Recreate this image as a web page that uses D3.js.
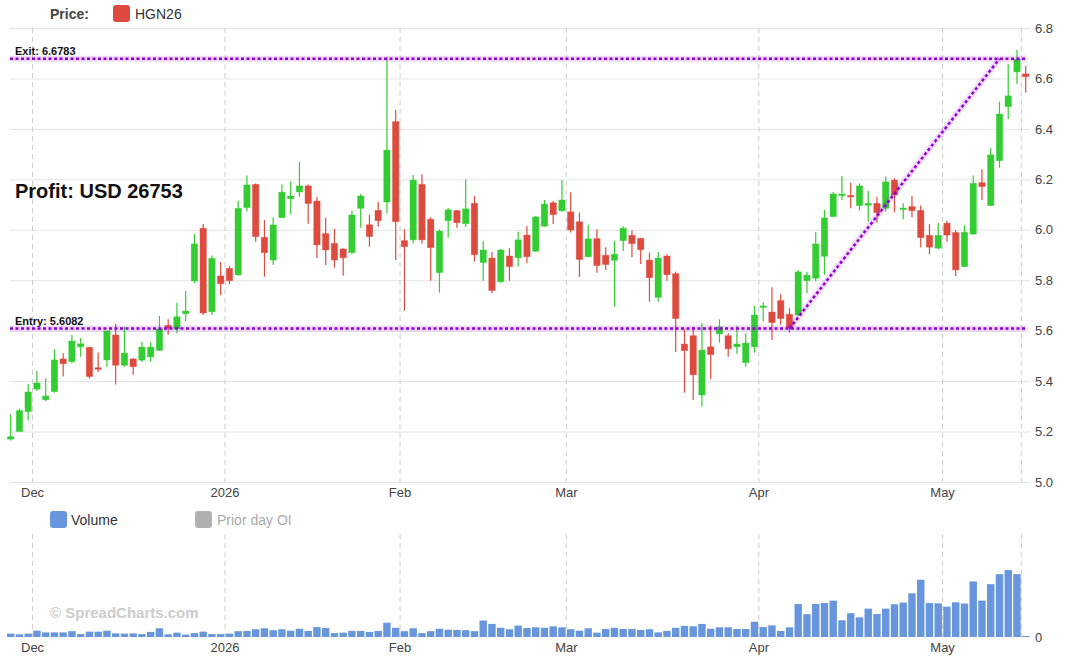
<!DOCTYPE html>
<html>
<head>
<meta charset="utf-8">
<script src="https://cdn.jsdelivr.net/npm/d3@7"></script>
<style>
  body { margin: 0; background: #fff; }
  svg { display: block; font-family: "Liberation Sans", Arial, sans-serif; }
</style>
</head>
<body>
<svg width="1080" height="658"></svg>
<script>
// trading calendar (weekdays minus exchange holidays)
const firstDay = "2025-11-25";
const lastDay = "2026-05-14";
const holidays = ["2025-11-27", "2025-12-25", "2026-01-01", "2026-01-19", "2026-02-16", "2026-04-03"];

// HGN26 daily OHLC
const open = [5.170, 5.200, 5.279, 5.368, 5.326, 5.358, 5.488, 5.477, 5.536, 5.534,
  5.453, 5.484, 5.583, 5.463, 5.488, 5.483, 5.496, 5.522, 5.621, 5.607,
  5.667, 5.797, 6.006, 5.675, 5.817, 5.847, 5.821, 6.088, 6.180, 5.970,
  5.880, 6.048, 6.123, 6.150, 6.174, 6.114, 5.985, 5.946, 5.924, 5.909,
  6.085, 6.020, 6.077, 6.110, 6.429, 5.957, 5.960, 6.180, 6.042, 5.830,
  6.036, 6.076, 6.024, 6.105, 5.870, 5.888, 5.794, 5.896, 5.889, 5.979,
  5.915, 6.014, 6.107, 6.075, 6.071, 6.032, 5.893, 5.965, 5.899, 5.879,
  5.957, 5.978, 5.966, 5.880, 5.732, 5.896, 5.826, 5.547, 5.580, 5.345,
  5.536, 5.587, 5.580, 5.536, 5.473, 5.536, 5.694, 5.674, 5.719, 5.665,
  5.662, 5.798, 5.808, 5.895, 6.052, 6.135, 6.136, 6.096, 6.097, 6.105,
  6.085, 6.197, 6.082, 6.092, 6.077, 5.978, 5.927, 6.026, 5.989, 5.854,
  5.983, 6.187, 6.096, 6.274, 6.488, 6.626, 6.618];
const high = [5.270, 5.290, 5.389, 5.441, 5.411, 5.526, 5.510, 5.583, 5.571, 5.536,
  5.513, 5.600, 5.627, 5.616, 5.490, 5.556, 5.554, 5.658, 5.645, 5.711,
  5.757, 5.983, 6.023, 5.898, 5.872, 5.855, 6.115, 6.215, 6.183, 6.039,
  6.049, 6.180, 6.191, 6.269, 6.180, 6.130, 6.048, 6.003, 5.927, 6.075,
  6.142, 6.059, 6.110, 6.686, 6.475, 6.002, 6.217, 6.220, 6.050, 6.002,
  6.086, 6.078, 6.200, 6.134, 5.956, 5.912, 5.924, 5.927, 5.992, 6.015,
  6.055, 6.118, 6.114, 6.197, 6.149, 6.068, 6.020, 6.002, 5.931, 5.956,
  6.014, 5.998, 5.968, 5.909, 5.912, 5.903, 5.834, 5.605, 5.616, 5.629,
  5.619, 5.645, 5.590, 5.619, 5.590, 5.698, 5.713, 5.772, 5.744, 5.689,
  5.841, 5.833, 5.991, 6.079, 6.150, 6.213, 6.187, 6.184, 6.154, 6.131,
  6.211, 6.205, 6.105, 6.134, 6.096, 6.022, 6.028, 6.036, 5.999, 6.018,
  6.215, 6.240, 6.323, 6.508, 6.656, 6.713, 6.650];
const low = [5.165, 5.200, 5.246, 5.362, 5.321, 5.354, 5.418, 5.471, 5.497, 5.410,
  5.436, 5.457, 5.387, 5.457, 5.425, 5.477, 5.477, 5.520, 5.584, 5.590,
  5.636, 5.788, 5.662, 5.662, 5.741, 5.784, 5.818, 6.072, 5.953, 5.814,
  5.860, 6.046, 6.063, 6.131, 6.024, 5.887, 5.860, 5.850, 5.818, 5.905,
  6.008, 5.933, 6.012, 6.065, 5.880, 5.679, 5.946, 5.946, 5.798, 5.751,
  5.969, 6.008, 6.011, 5.874, 5.798, 5.748, 5.790, 5.798, 5.854, 5.867,
  5.913, 6.012, 6.023, 6.071, 5.989, 5.813, 5.891, 5.830, 5.841, 5.695,
  5.916, 5.891, 5.864, 5.715, 5.715, 5.798, 5.515, 5.354, 5.325, 5.299,
  5.408, 5.552, 5.497, 5.508, 5.457, 5.513, 5.636, 5.563, 5.623, 5.592,
  5.658, 5.748, 5.796, 5.821, 6.050, 6.118, 6.085, 6.076, 6.032, 6.028,
  6.072, 6.069, 6.042, 6.050, 5.931, 5.903, 5.923, 5.953, 5.817, 5.852,
  5.980, 6.118, 6.094, 6.246, 6.439, 6.578, 6.544];
const close = [5.180, 5.283, 5.357, 5.393, 5.341, 5.484, 5.469, 5.559, 5.548, 5.418,
  5.449, 5.599, 5.463, 5.511, 5.457, 5.535, 5.535, 5.607, 5.609, 5.655,
  5.678, 5.944, 5.670, 5.887, 5.786, 5.798, 6.085, 6.178, 5.973, 5.909,
  6.019, 6.149, 6.134, 6.174, 6.104, 5.940, 5.920, 5.880, 5.889, 6.059,
  6.134, 5.973, 6.036, 6.316, 6.032, 5.933, 6.197, 5.960, 5.929, 5.995,
  6.079, 6.028, 6.083, 5.901, 5.920, 5.759, 5.920, 5.854, 5.960, 5.893,
  6.051, 6.102, 6.060, 6.118, 5.999, 5.882, 5.964, 5.858, 5.862, 5.903,
  6.006, 5.945, 5.921, 5.810, 5.888, 5.822, 5.648, 5.521, 5.425, 5.523,
  5.505, 5.615, 5.528, 5.547, 5.551, 5.662, 5.698, 5.632, 5.648, 5.612,
  5.833, 5.820, 5.944, 6.047, 6.142, 6.142, 6.132, 6.174, 6.105, 6.068,
  6.190, 6.138, 6.086, 6.076, 5.969, 5.931, 5.978, 5.979, 5.841, 5.990,
  6.184, 6.171, 6.297, 6.459, 6.531, 6.676, 6.607];
const volume = [1400, 1100, 1400, 2600, 1900, 1900, 1900, 2400, 1200, 2200,
  2200, 2600, 1500, 1400, 1500, 1200, 2100, 3600, 1100, 1800,
  1000, 1600, 2200, 1200, 1200, 1400, 2400, 2500, 3200, 3600,
  2800, 3200, 2600, 3400, 2500, 4100, 3700, 1600, 1800, 2500,
  2500, 2100, 2500, 5900, 3800, 2400, 3600, 1600, 2400, 3400,
  3000, 2900, 2800, 2400, 6800, 5400, 3800, 3200, 4700, 3700,
  4000, 3800, 4400, 4000, 3200, 2600, 3600, 1800, 3300, 3800,
  3300, 3300, 2900, 3200, 1900, 2500, 3800, 4600, 4400, 5400,
  3400, 4000, 4000, 3300, 3300, 6300, 4100, 4800, 2500, 4000,
  13600, 9400, 13600, 14000, 15000, 6900, 9800, 8100, 11700, 9500,
  11700, 13500, 14200, 18000, 23600, 14000, 13900, 12500, 14300, 13800,
  22900, 15000, 21800, 25900, 27600, 25900, 0];

// axes
const priceTicks = [5.0, 5.2, 5.4, 5.6, 5.8, 6.0, 6.2, 6.4, 6.6, 6.8];
const monthLabels = ["Dec", "2026", "Feb", "Mar", "Apr", "May"];
const monthStarts = ["2025-12-01", "2026-01-02", "2026-02-02", "2026-03-02", "2026-04-01", "2026-05-01"];

// trade
const entryDate = "2026-04-07", entryPrice = 5.6082;
const exitDate = "2026-05-11", exitPrice = 6.6783;
const profit = 26753;

const green = "#33cc33", red = "#dd4b3e", purple = "#9400d3";

const parse = d3.utcParse("%Y-%m-%d");
const fmt = d3.utcFormat("%Y-%m-%d");
const dates = d3.utcDays(parse(firstDay), d3.utcDay.offset(parse(lastDay), 1))
  .filter(d => d.getUTCDay() % 6 !== 0 && !holidays.includes(fmt(d)))
  .map(fmt);

const data = dates.map((d, i) => ({
  date: d, open: open[i], high: high[i], low: low[i], close: close[i], volume: volume[i]
}));

const svg = d3.select("svg");

const x = d3.scaleBand()
  .domain(dates)
  .range([6.3, 1030.1])
  .padding(0);
const cx = d => x(d) + x.bandwidth() / 2;

const y = d3.scaleLinear().domain([5.0, 6.8]).range([482, 28]);
const yv = d3.scaleLinear().domain([0, 40000]).range([637, 540]);

// price grid + right labels
svg.append("g")
  .attr("transform", "translate(1030,0)")
  .call(d3.axisRight(y).tickValues(priceTicks).tickSize(-1020).tickPadding(5).tickFormat(d3.format(".1f")))
  .call(g => g.select(".domain").remove())
  .call(g => g.selectAll("line").attr("stroke", "#e3e3e3"))
  .call(g => g.selectAll("text").attr("fill", "#444").attr("font-size", 13));

// month separators
const seps = monthStarts.concat([lastDay]);
svg.append("g").selectAll("line")
  .data(seps)
  .join("line")
  .attr("x1", d => x(d)).attr("x2", d => x(d))
  .attr("y1", 28).attr("y2", 482)
  .attr("stroke", "#ccc")
  .attr("stroke-dasharray", "5,4");
svg.append("g").selectAll("line")
  .data(seps)
  .join("line")
  .attr("x1", d => x(d)).attr("x2", d => x(d))
  .attr("y1", 534).attr("y2", 637)
  .attr("stroke", "#ccc")
  .attr("stroke-dasharray", "5,4");

// month labels
function monthAxis(yPos) {
  svg.append("g")
    .attr("transform", "translate(" + (-x.step() / 2) + "," + yPos + ")")
    .call(d3.axisBottom(x).tickValues(monthStarts).tickSize(0).tickPadding(6)
      .tickFormat(d => monthLabels[monthStarts.indexOf(d)]))
    .call(g => g.select(".domain").remove())
    .call(g => g.selectAll("text").attr("fill", "#444").attr("font-size", 13));
}
monthAxis(482);
monthAxis(637);

// candles
const candle = svg.append("g").selectAll("g")
  .data(data)
  .join("g")
  .attr("stroke", d => d.close >= d.open ? green : red)
  .attr("fill", d => d.close >= d.open ? green : red);

candle.append("line")
  .attr("x1", d => cx(d.date)).attr("x2", d => cx(d.date))
  .attr("y1", d => y(d.high)).attr("y2", d => y(d.low))
  .attr("stroke-width", 1.2);

candle.append("rect")
  .attr("x", d => cx(d.date) - 3.2)
  .attr("width", 6.4)
  .attr("y", d => y(Math.max(d.open, d.close)))
  .attr("height", d => Math.max(1.5, Math.abs(y(d.open) - y(d.close))))
  .attr("stroke-width", 0.8)
  .attr("stroke-opacity", 0.45);

// entry / exit lines
function dotted(x1, y1, x2, y2) {
  svg.append("line")
    .attr("x1", x1).attr("y1", y1).attr("x2", x2).attr("y2", y2)
    .attr("stroke", purple).attr("stroke-opacity", 0.15).attr("stroke-width", 6);
  svg.append("line")
    .attr("x1", x1).attr("y1", y1).attr("x2", x2).attr("y2", y2)
    .attr("stroke", purple).attr("stroke-width", 2.5)
    .attr("stroke-dasharray", "3,2.5");
}
dotted(10, y(exitPrice), 1026, y(exitPrice));
dotted(10, y(entryPrice), 1026, y(entryPrice));
dotted(cx(entryDate), y(entryPrice), cx(exitDate), y(exitPrice));

svg.append("text")
  .attr("x", 15).attr("y", y(exitPrice) - 4)
  .attr("font-size", 11).attr("font-weight", "bold").attr("fill", "#111")
  .text("Exit: " + exitPrice.toFixed(4));
svg.append("text")
  .attr("x", 15).attr("y", y(entryPrice) - 4)
  .attr("font-size", 11).attr("font-weight", "bold").attr("fill", "#111")
  .text("Entry: " + entryPrice.toFixed(4));
svg.append("text")
  .attr("x", 15).attr("y", 198)
  .attr("font-size", 20).attr("font-weight", "bold").attr("fill", "#111")
  .text("Profit: USD " + profit);

// volume bars
svg.append("g").selectAll("rect")
  .data(data)
  .join("rect")
  .attr("x", d => cx(d.date) - 3.7)
  .attr("width", 7.4)
  .attr("y", d => Math.min(yv(d.volume), yv(0) - 1))
  .attr("height", d => Math.max(1, yv(0) - yv(d.volume)))
  .attr("fill", "#6896dc");

svg.append("text")
  .attr("x", 1035).attr("y", yv(0)).attr("dy", "0.35em")
  .attr("font-size", 13).attr("fill", "#444")
  .text("0");

// watermark
svg.append("text")
  .attr("x", 50).attr("y", 618)
  .attr("font-size", 15).attr("font-weight", "bold").attr("fill", "#ccc")
  .text("\u00a9 SpreadCharts.com");

// legends
svg.append("text")
  .attr("x", 50).attr("y", 19)
  .attr("font-size", 14).attr("font-weight", "bold").attr("fill", "#444")
  .text("Price:");
svg.append("rect")
  .attr("x", 113).attr("y", 5).attr("width", 17).attr("height", 17).attr("rx", 3)
  .attr("fill", red);
svg.append("text")
  .attr("x", 135).attr("y", 19)
  .attr("font-size", 14).attr("fill", "#333")
  .text("HGN26");

svg.append("rect")
  .attr("x", 50).attr("y", 511).attr("width", 17).attr("height", 17).attr("rx", 3)
  .attr("fill", "#6896dc");
svg.append("text")
  .attr("x", 71).attr("y", 525)
  .attr("font-size", 14).attr("fill", "#333")
  .text("Volume");
svg.append("rect")
  .attr("x", 195).attr("y", 511).attr("width", 17).attr("height", 17).attr("rx", 3)
  .attr("fill", "#b0b0b0");
svg.append("text")
  .attr("x", 217).attr("y", 525)
  .attr("font-size", 14).attr("fill", "#aaa")
  .text("Prior day OI");
</script>
</body>
</html>
